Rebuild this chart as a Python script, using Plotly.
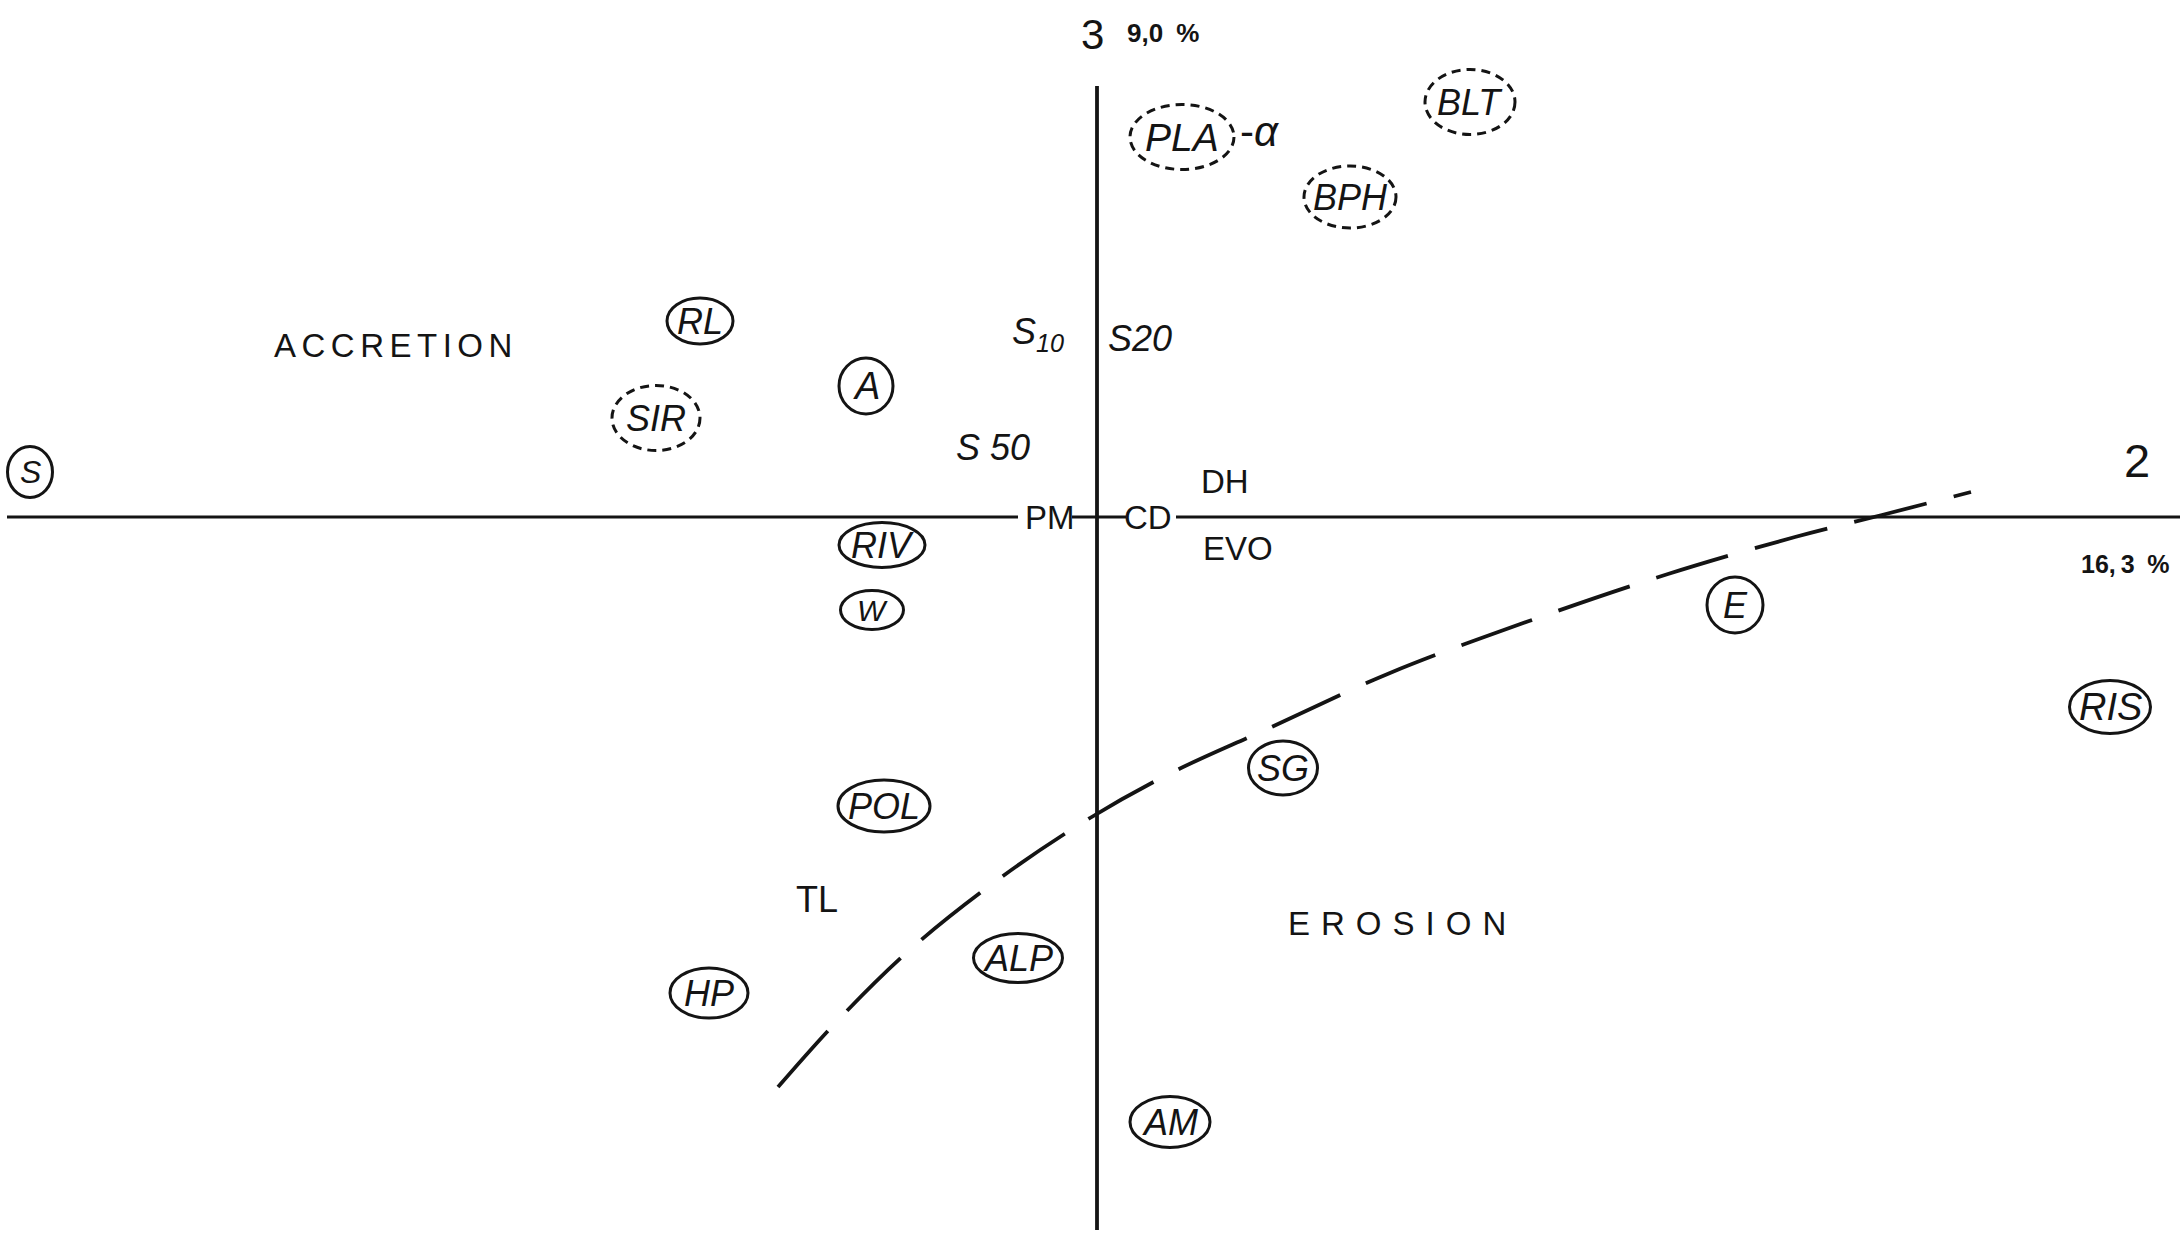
import plotly.graph_objects as go

# ---------------------------------------------------------------
# Factor plane 2 x 3: factor scores (axis 2 horizontal, axis 3 vertical)
# ---------------------------------------------------------------
site_names = ["S", "RL", "SIR", "A", "PLA", "BLT", "BPH", "RIV",
              "W", "POL", "HP", "ALP", "AM", "SG", "E", "RIS"]
site_f2 = [-2.134, -0.794, -0.882, -0.462, 0.170, 0.746, 0.506, -0.430,
           -0.450, -0.426, -0.776, -0.158, 0.146, 0.372, 1.276, 2.026]
site_f3 = [0.090, 0.392, 0.198, 0.262, 0.760, 0.830, 0.640, -0.056,
           -0.186, -0.578, -0.952, -0.882, -1.210, -0.502, -0.176, -0.380]

# variables projected on the same plane
var_names = ["S<sub>10</sub>", "S20", "S 50", "PM", "CD", "DH", "EVO", "TL"]
var_f2 = [-0.118, 0.086, -0.208, -0.094, 0.102, 0.256, 0.282, -0.560]
var_f3 = [0.366, 0.358, 0.140, 0.000, 0.000, 0.072, -0.062, -0.764]

# accretion / erosion boundary
bound_f2 = [-0.638, -0.514, -0.368, -0.188, -0.014, 0.152,
            0.336, 0.586, 0.864, 1.142, 1.396, 1.570, 1.748]
bound_f3 = [-1.140, -1.002, -0.860, -0.718, -0.602, -0.510,
            -0.426, -0.312, -0.208, -0.114, -0.040, 0.004, 0.050]

# axes and explained variance
axis_numbers = ["2", "3"]
axis_variance = ["16,3 %", "9,0 %"]

# ---------------------------------------------------------------
# styling
# ---------------------------------------------------------------
W_PX, H_PX = 2180, 1236
X_RANGE = [-2.194, 2.166]
Y_RANGE = [-1.438, 1.034]
PX = W_PX / (X_RANGE[1] - X_RANGE[0])   # pixels per data unit

INK = "#141414"
FONT = "Liberation Sans, Arial, sans-serif"

dashed_sites = {"SIR", "PLA", "BLT", "BPH"}
# outline size (width, height) in pixels around each site label
outline_px = {
    "S": (45, 51), "RL": (66, 46), "SIR": (88, 65), "A": (54, 56),
    "PLA": (104, 65), "BLT": (90, 65), "BPH": (92, 62), "RIV": (86, 45),
    "W": (63, 39), "POL": (92, 52), "HP": (78, 50), "ALP": (89, 49),
    "AM": (80, 51), "SG": (69, 54), "E": (56, 56), "RIS": (81, 53),
}
site_font = {"W": 30, "S": 32, "PLA": 39, "RIS": 38, "A": 38}
italic_vars = {"S<sub>10</sub>", "S20", "S 50"}
var_font = {"TL": 36}


def spaced(label, sep):
    """Hand-lettered look: spread the characters of a label."""
    return sep.join(label)


fig = go.Figure()

# boundary curve
fig.add_trace(go.Scatter(
    x=bound_f2, y=bound_f3, mode="lines",
    line=dict(shape="spline", smoothing=1.0, dash="75px,28px",
              width=3.8, color=INK),
    hoverinfo="skip", showlegend=False,
))

shapes = []
annotations = []

# axis lines (horizontal one is interrupted by the PM and CD labels)
for x0, x1 in [(X_RANGE[0] + 0.014, -0.158), (-0.050, 0.058), (0.158, X_RANGE[1])]:
    shapes.append(dict(type="line", xref="x", yref="y", x0=x0, x1=x1, y0=0, y1=0,
                       line=dict(color=INK, width=3.2)))
shapes.append(dict(type="line", xref="x", yref="y", x0=0, x1=0,
                   y0=-1.426, y1=0.862, line=dict(color=INK, width=3.8)))

# site labels with their outlines
for name, x, y in zip(site_names, site_f2, site_f3):
    w, h = outline_px[name]
    hw, hh = w / 2 / PX, h / 2 / PX
    shapes.append(dict(
        type="circle", xref="x", yref="y",
        x0=x - hw, x1=x + hw, y0=y - hh, y1=y + hh,
        line=dict(color=INK, width=3,
                  dash="9px,6px" if name in dashed_sites else "solid"),
    ))
    annotations.append(dict(
        x=x, y=y, xref="x", yref="y", text=f"<i>{name}</i>",
        showarrow=False, xanchor="center", yanchor="middle",
        font=dict(family=FONT, size=site_font.get(name, 36), color=INK),
    ))

# suffix next to PLA
pla = site_names.index("PLA")
annotations.append(dict(
    x=site_f2[pla] + 0.154, y=site_f3[pla] + 0.012, xref="x", yref="y",
    text="-<i>α</i>", showarrow=False, xanchor="center", yanchor="middle",
    font=dict(family=FONT, size=42, color=INK),
))

# variable labels
for name, x, y in zip(var_names, var_f2, var_f3):
    txt = f"<i>{name}</i>" if name in italic_vars else name
    size = 36 if name in italic_vars else var_font.get(name, 33)
    annotations.append(dict(
        x=x, y=y, xref="x", yref="y", text=txt, showarrow=False,
        xanchor="center", yanchor="middle",
        font=dict(family=FONT, size=size, color=INK),
    ))

# zone names
annotations.append(dict(
    x=-1.408, y=0.344, xref="x", yref="y",
    text=spaced("ACCRETION", "\u2006"), showarrow=False,
    font=dict(family=FONT, size=33, color=INK),
))
annotations.append(dict(
    x=0.600, y=-0.812, xref="x", yref="y",
    text=spaced("EROSION", "\u2004"), showarrow=False,
    font=dict(family=FONT, size=33, color=INK),
))

# axis numbers and explained variance
annotations += [
    dict(x=2.080, y=0.114, xref="x", yref="y", text=axis_numbers[0],
         showarrow=False, font=dict(family=FONT, size=47, color=INK)),
    dict(x=2.056, y=-0.094, xref="x", yref="y",
         text="<b>" + axis_variance[0].replace(",", ",\u2009").replace(" ", "\u2002") + "</b>",
         showarrow=False, font=dict(family=FONT, size=25, color=INK)),
    dict(x=-0.010, y=0.966, xref="x", yref="y", text=axis_numbers[1],
         showarrow=False, font=dict(family=FONT, size=42, color=INK)),
    dict(x=0.132, y=0.968, xref="x", yref="y",
         text="<b>" + axis_variance[1].replace(" ", "\u2002") + "</b>",
         showarrow=False, font=dict(family=FONT, size=26, color=INK)),
]

fig.update_layout(
    width=W_PX, height=H_PX,
    margin=dict(l=0, r=0, t=0, b=0),
    paper_bgcolor="white", plot_bgcolor="white",
    xaxis=dict(range=X_RANGE, visible=False, fixedrange=True),
    yaxis=dict(range=Y_RANGE, visible=False, fixedrange=True),
    shapes=shapes, annotations=annotations,
    showlegend=False,
)

fig.write_html("out.html", config={"displayModeBar": False})
